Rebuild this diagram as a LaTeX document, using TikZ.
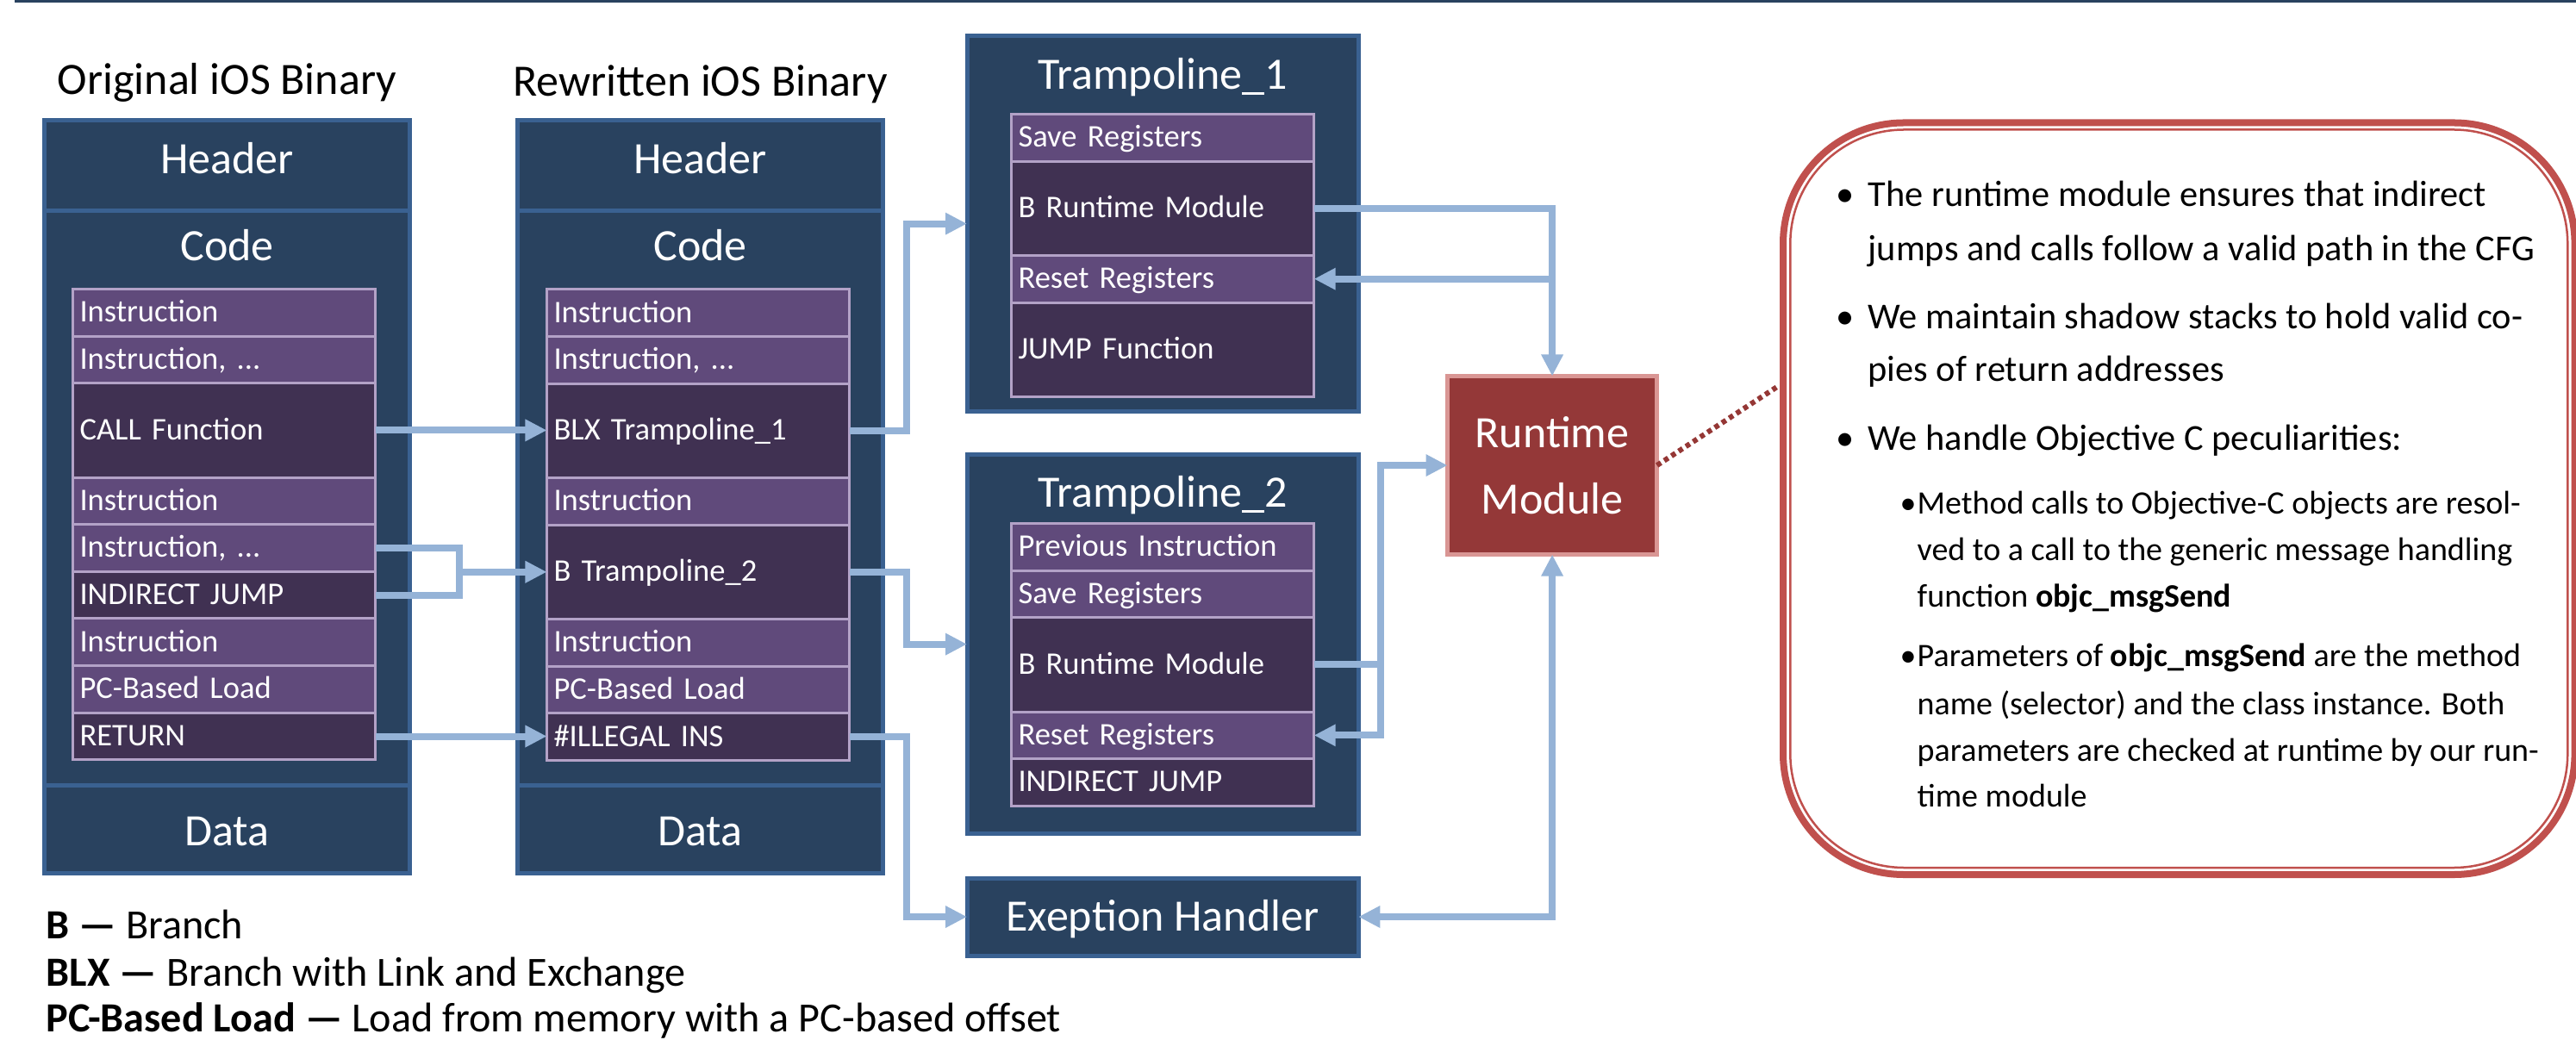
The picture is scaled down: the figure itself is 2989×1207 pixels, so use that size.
\documentclass[tikz,border=0pt]{standalone}
\usepackage{fontspec}
\setmainfont{Carlito}
\usetikzlibrary{arrows.meta}
\definecolor{navy}{HTML}{29425F}
\definecolor{bborder}{HTML}{3A6191}
\definecolor{plight}{HTML}{604A7B}
\definecolor{pdark}{HTML}{403152}
\definecolor{lav}{HTML}{B3A2C7}
\definecolor{arrowc}{HTML}{95B3D7}
\definecolor{rmf}{HTML}{943838}
\definecolor{rmb}{HTML}{D99694}
\definecolor{cred}{HTML}{C0504D}
\definecolor{dotc}{HTML}{953735}
\newcommand\fBig{\fontsize{14.8pt}{17pt}\selectfont}
\newcommand\fIns{\fontsize{10.4pt}{12pt}\selectfont}
\newcommand\fLeg{\fontsize{13.7pt}{16pt}\selectfont}
\newcommand\fMain{\fontsize{12.05pt}{15pt}\selectfont}
\newcommand\fSub{\fontsize{10.8pt}{13pt}\selectfont}
\begin{document}
\begin{tikzpicture}[x=0.01cm, y=-0.01cm,
  nbox/.style={draw=bborder, fill=navy, line width=0.05cm, outer sep=0pt, inner sep=0pt, anchor=north west},
  ttl/.style={text=white, font=\fBig, anchor=base, inner sep=0pt},
  ttlb/.style={text=black, font=\fBig, anchor=base, inner sep=0pt},
  ins/.style={draw=lav, line width=0.03cm, outer sep=0pt, inner xsep=0.08cm, inner ysep=0pt,
    text width=3.35cm, align=left, text=white, font=\fIns, text height=0.22cm, text depth=0pt,
    minimum height=0.546cm, anchor=north west},
  insl/.style={ins, fill=plight},
  insd/.style={ins, fill=pdark},
  dbl/.style={minimum height=1.092cm},
  conn/.style={draw=arrowc, line width=0.08cm},
  arr/.style={conn, -{Triangle[length=0.25cm,width=0.24cm]}},
  arrtwo/.style={conn, {Triangle[length=0.25cm,width=0.24cm]}-{Triangle[length=0.25cm,width=0.24cm]}},
  txt/.style={anchor=base west, inner sep=0pt, font=\fMain, text=black},
  stxt/.style={anchor=base west, inner sep=0pt, font=\fSub, text=black},
  leg/.style={anchor=base west, inner sep=0pt, font=\fLeg, text=black}
]
\useasboundingbox (0,0) rectangle (2989,1207);
\fill[white] (0,0) rectangle (2989,1207);
\draw[navy, line width=0.03cm] (17,1.5) -- (2989,1.5);

% titles
\node[ttlb] (tOrig) at (263.5,110) {Original iOS Binary};
\node[ttlb] (tRew) at (812.5,112) {Rewritten iOS Binary};

% original binary
\node[nbox, minimum width=4.24cm, minimum height=1.05cm] (hdrL) at (51.5,140) {};
\node[nbox, minimum width=4.24cm, minimum height=6.66cm] (codeL) at (51.5,245) {};
\node[nbox, minimum width=4.24cm, minimum height=1.02cm] (dataL) at (51.5,911) {};
\node[ttl] (hdrLt) at (263.5,202) {Header};
\node[ttl] (codeLt) at (263.5,303) {Code};
\node[ttl] (dataLt) at (263.5,981) {Data};

\node[insl] (i1L) at (84.5,335.5) {Instruction};
\node[insl] (i2L) at (i1L.south west) {Instruction, ...};
\node[insd, dbl] (callL) at (i2L.south west) {CALL Function};
\node[insl] (i4L) at (callL.south west) {Instruction};
\node[insl] (i5L) at (i4L.south west) {Instruction, ...};
\node[insd] (indL) at (i5L.south west) {INDIRECT JUMP};
\node[insl] (i7L) at (indL.south west) {Instruction};
\node[insl] (pcL) at (i7L.south west) {PC-Based Load};
\node[insd] (retL) at (pcL.south west) {RETURN};

% rewritten binary
\node[nbox, minimum width=4.24cm, minimum height=1.05cm] (hdrR) at (600.5,140) {};
\node[nbox, minimum width=4.24cm, minimum height=6.66cm] (codeR) at (600.5,245) {};
\node[nbox, minimum width=4.24cm, minimum height=1.02cm] (dataR) at (600.5,911) {};
\node[ttl] (hdrRt) at (812.5,202) {Header};
\node[ttl] (codeRt) at (812.5,303) {Code};
\node[ttl] (dataRt) at (812.5,981) {Data};

\node[insl] (i1R) at (634.5,336) {Instruction};
\node[insl] (i2R) at (i1R.south west) {Instruction, ...};
\node[insd, dbl] (blxR) at (i2R.south west) {BLX Trampoline\_1};
\node[insl] (i4R) at (blxR.south west) {Instruction};
\node[insd, dbl] (bt2R) at (i4R.south west) {B Trampoline\_2};
\node[insl] (i6R) at (bt2R.south west) {Instruction};
\node[insl] (pcR) at (i6R.south west) {PC-Based Load};
\node[insd] (illR) at (pcR.south west) {\#ILLEGAL INS};

% trampoline 1
\node[nbox, minimum width=4.54cm, minimum height=4.35cm] (T1) at (1122,42) {};
\node[ttl] (T1t) at (1349,104) {Trampoline\_1};
\node[insl] (sr1) at (1173.5,132.5) {Save Registers};
\node[insd, dbl] (brm1) at (sr1.south west) {B Runtime Module};
\node[insl] (rr1) at (brm1.south west) {Reset Registers};
\node[insd, dbl] (jf1) at (rr1.south west) {JUMP Function};

% trampoline 2
\node[nbox, minimum width=4.54cm, minimum height=4.39cm] (T2) at (1122,528) {};
\node[ttl] (T2t) at (1349,589) {Trampoline\_2};
\node[insl] (pi2) at (1173.5,607.5) {Previous Instruction};
\node[insl] (sr2) at (pi2.south west) {Save Registers};
\node[insd, dbl] (brm2) at (sr2.south west) {B Runtime Module};
\node[insl] (rr2) at (brm2.south west) {Reset Registers};
\node[insd] (ij2) at (rr2.south west) {INDIRECT JUMP};

% exception handler
\node[nbox, minimum width=4.54cm, minimum height=0.90cm] (Exc) at (1122,1019) {};
\node[ttl] (Exct) at (1349,1080) {Exeption Handler};

% runtime module
\node[draw=rmb, fill=rmf, line width=0.05cm, outer sep=0pt, inner sep=0pt, anchor=north west,
  minimum width=2.43cm, minimum height=2.07cm] (RM) at (1679.5,436.5) {};
\node[ttl] (RMt1) at (1801,520) {Runtime};
\node[ttl] (RMt2) at (1801,597) {Module};

% connectors
\coordinate (xA) at (1052,0);
\coordinate (xB) at (533,0);
\coordinate (xD) at (1602,0);
\draw[arr] (callL.east) -- (callL.east -| blxR.west);
\draw[arr] (blxR.east) -| (xA |- T1.west) -- (T1.west);
\draw[conn] (i5L.east) -| (xB |- indL.east) -- (indL.east);
\draw[arr] (xB |- bt2R.west) -- (bt2R.west);
\draw[arr] (bt2R.east) -| (xA |- T2.west) -- (T2.west);
\draw[arr] (retL.east) -- (retL.east -| illR.west);
\draw[arr] (illR.east) -| (xA |- Exc.west) -- (Exc.west);
\draw[arr] (brm1.east) -| (RM.north);
\draw[arr] (RM.north |- rr1.east) -- (rr1.east);
\draw[arr] (brm2.east) -| (xD |- RM.west) -- (RM.west);
\draw[arr] (xD |- brm2.east) |- (rr2.east);
\draw[arrtwo] (RM.south) |- (Exc.east);

% callout
\node[draw=cred, line width=0.08cm, rounded corners=1.4cm, minimum width=9.18cm, minimum height=8.72cm,
  anchor=north west, outer sep=0pt, inner sep=0pt] (callout) at (2069,142.5) {};
\draw[cred, line width=0.025cm, rounded corners=1.32cm]
  ([shift={(8.3,8)}]callout.north west) rectangle ([shift={(-8.3,-8)}]callout.south east);
\coordinate (cL) at (2065,447);
\draw[dotc, line width=0.06cm, dash pattern=on 0.055cm off 0.045cm] (RM.east) -- (cL);

\node[txt] (c1a) at (2130,240) {\makebox[0.37cm][l]{•}The runtime module ensures that indirect};
\node[txt] (c1b) at (2167,303) {jumps and calls follow a valid path in the CFG};
\node[txt] (c2a) at (2130,382) {\makebox[0.37cm][l]{•}We maintain shadow stacks to hold valid co-};
\node[txt] (c2b) at (2167,443) {pies of return addresses};
\node[txt] (c3a) at (2130,523) {\makebox[0.37cm][l]{•}We handle Objective C peculiarities:};
\node[stxt] (s1a) at (2204,597) {\makebox[0.2cm][l]{•}Method calls to Objective-C objects are resol-};
\node[stxt] (s1b) at (2224,651) {ved to a call to the generic message handling};
\node[stxt] (s1c) at (2224,705) {function \textbf{objc\_msgSend}};
\node[stxt] (s2a) at (2204,774) {\makebox[0.2cm][l]{•}Parameters of \textbf{objc\_msgSend} are the method};
\node[stxt] (s2b) at (2224,829) {name (selector) and the class instance. Both};
\node[stxt] (s2c) at (2224,883) {parameters are checked at runtime by our run-};
\node[stxt] (s2d) at (2224,936) {time module};

% legend
\node[leg] (lg1) at (53,1089) {\textbf{B —} Branch};
\node[leg] (lg2) at (53,1144) {\textbf{BLX —} Branch with Link and Exchange};
\node[leg] (lg3) at (53,1197) {\textbf{PC-Based Load —} Load from memory with a PC-based offset};
\end{tikzpicture}
\end{document}
